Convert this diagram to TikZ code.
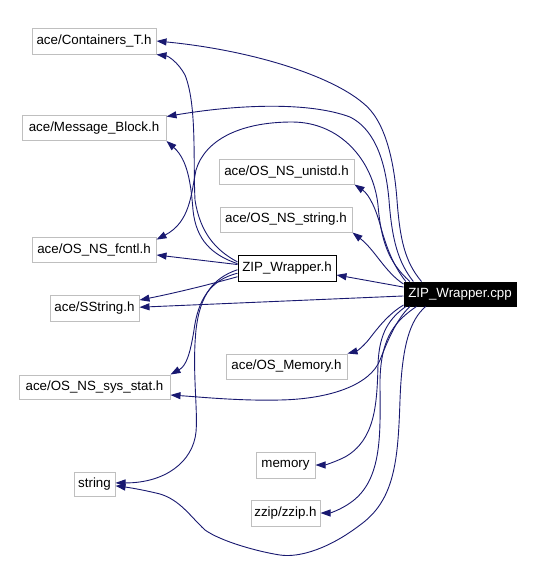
\documentclass[tikz,border=0pt]{standalone}
\usepackage{fontspec}
\setmainfont{Liberation Sans}
\usetikzlibrary{arrows.meta}
\definecolor{edgeblue}{RGB}{25,25,112}
\definecolor{boxgray}{RGB}{191,191,191}
\begin{document}
\begin{tikzpicture}[->, >={Triangle[length=10pt,width=7pt]}, x=1pt, y=-1pt,
    every path/.style={draw=edgeblue, line width=0.9pt},
    hdr/.style={rectangle, draw=boxgray, fill=white, line width=1pt, inner sep=0pt,
        minimum height=25pt, font=\fontsize{13.33}{16}\selectfont},
    wrap/.style={hdr, draw=black},
    focus/.style={hdr, draw=black, fill=black, text=white}]
    \useasboundingbox[draw=none] (0,0) rectangle (534,582);

                % Nodes
                \node (cont) [hdr, minimum width=124pt, minimum height=26pt] at (94,41) {ace/Containers\_T.h};
                \node (msg) [hdr, minimum width=144pt] at (94,128) {ace/Message\_Block.h};
                \node (fcntl) [hdr, minimum width=124pt] at (94,249.5) {ace/OS\_NS\_fcntl.h};
                \node (sstr) [hdr, minimum width=89pt, minimum height=26pt] at (94.5,308) {ace/SString.h};
                \node (stat) [hdr, minimum width=151pt, minimum height=24pt] at (94.5,387) {ace/OS\_NS\_sys\_stat.h};
                \node (str) [hdr, minimum width=41pt, minimum height=24pt] at (94.5,484) {string};
                \node (unistd) [hdr, minimum width=135pt] at (286.5,171.5) {ace/OS\_NS\_unistd.h};
                \node (nsstr) [hdr, minimum width=132pt] at (286,219.5) {ace/OS\_NS\_string.h};
                \node (wrh) [wrap, minimum width=98pt, minimum height=26pt] at (287,268) {ZIP\_Wrapper.h};
                \node (mem) [hdr, minimum width=121pt] at (286.5,366.5) {ace/OS\_Memory.h};
                \node (memory) [hdr, minimum width=59pt, minimum height=26pt] at (285.5,465) {memory};
                \node (zzip) [hdr, minimum width=69pt, minimum height=26pt] at (285.5,513) {zzip/zzip.h};
                \node (cpp) [focus, minimum width=112pt, minimum height=24pt] at (460,294) {ZIP\_Wrapper.cpp};

                % Includes of ZIP_Wrapper.cpp
                \draw (cpp.162) .. controls (405,262) and (400,240) .. (397,200)
                    .. controls (394,160) and (385,120) .. (363,103)
                    .. controls (330,75) and (250,50) .. (cont.east);
                \draw (cpp.165) .. controls (398,262) and (392,240) .. (389,200)
                    .. controls (385,155) and (372,128) .. (350,117)
                    .. controls (310,102) and (240,104) .. (msg.9);
                \draw (cpp.166.5) .. controls (388,262) and (381,240) .. (378,205)
                    .. controls (373,160) and (340,122) .. (292,122)
                    .. controls (240,122) and (205,140) .. (196,170)
                    .. controls (191,195) and (190,222) .. (fcntl.9);
                \draw (cpp.167.2) .. controls (392,264) and (386,245) .. (381,228)
                    .. controls (377,212) and (370,195) .. (unistd.south east);
                \draw (cpp.170) .. controls (385,272) and (375,250) .. (nsstr.south east);
                \draw (cpp.173) -- (wrh.-8);
                \draw (cpp.182) -- (sstr.1);
                \draw (cpp.191) .. controls (390,313) and (380,325) .. (370,338)
                    .. controls (364,346) and (357,351) .. (mem.north east);
                \draw (cpp.194) .. controls (396,320) and (388,340) .. (380,360)
                    .. controls (370,385) and (330,399) .. (280,400)
                    .. controls (240,401) and (200,397) .. (stat.-6);
                \draw (cpp.193) .. controls (390,318) and (379,332) .. (378,365)
                    .. controls (377,405) and (375,440) .. (345,457)
                    .. controls (335,462) and (325,465) .. (memory.east);
                \draw (cpp.196.7) .. controls (397,320) and (381,335) .. (380,380)
                    .. controls (380,430) and (384,480) .. (350,503)
                    .. controls (340,510) and (330,513) .. (zzip.east);
                \draw (cpp.200.6) .. controls (410,320) and (402,345) .. (400,400)
                    .. controls (398,460) and (395,500) .. (360,525)
                    .. controls (330,548) and (300,558) .. (280,555)
                    .. controls (260,552) and (222,542) .. (205,530)
                    .. controls (190,516) and (180,500) .. (160,494)
                    .. controls (140,489) and (125,487) .. (str.-5);

                % Includes of ZIP_Wrapper.h
                \draw (wrh.173) .. controls (215,250) and (200,232) .. (195,200)
                    .. controls (193,160) and (197,105) .. (185,75)
                    .. controls (178,62) and (168,56) .. (cont.south east);
                \draw (wrh.175) .. controls (212,255) and (196,240) .. (193,210)
                    .. controls (191,185) and (188,160) .. (msg.south east);
                \draw (wrh.176.5) -- (fcntl.-5);
                \draw (wrh.190) .. controls (215,283) and (180,292) .. (sstr.10);
                \draw (wrh.186) .. controls (210,280) and (198,300) .. (194,330)
                    .. controls (190,355) and (186,366) .. (stat.north east);
                \draw (wrh.182) .. controls (213,278) and (200,295) .. (196,330)
                    .. controls (192,370) and (198,410) .. (196,432)
                    .. controls (193,462) and (165,483) .. (str.3);

            \end{tikzpicture}
\end{document}
